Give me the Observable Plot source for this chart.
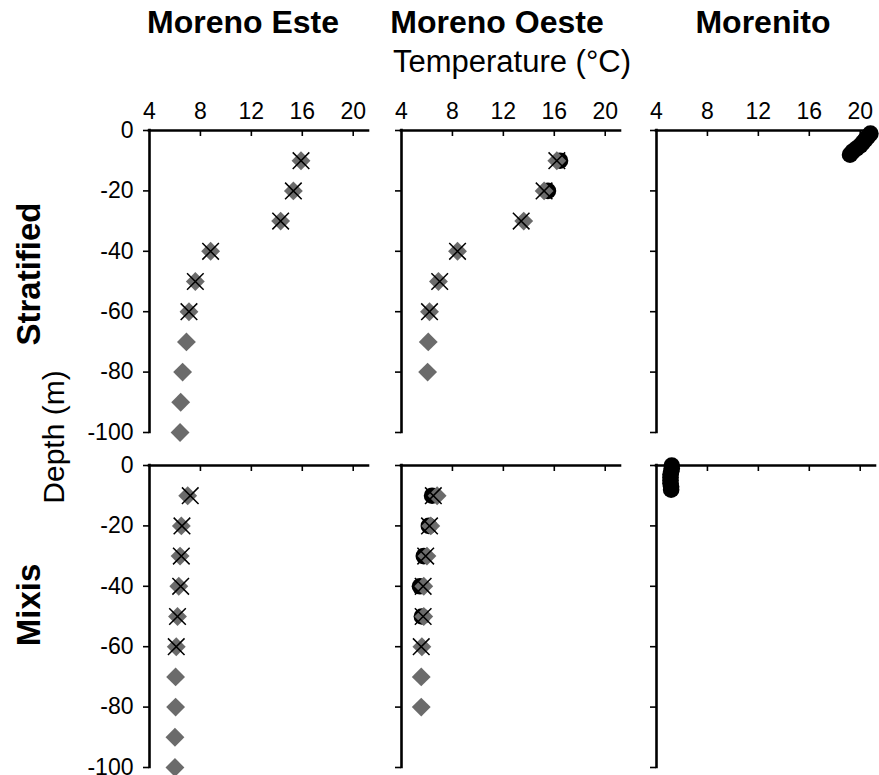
<!DOCTYPE html>
<html>
<head>
<meta charset="utf-8">
<script src="https://cdn.jsdelivr.net/npm/d3@7"></script>
<script src="https://cdn.jsdelivr.net/npm/@observablehq/plot@0.6"></script>
<style>
  html, body { margin: 0; padding: 0; background: #fff; }
  #root { position: relative; width: 879px; height: 775px; overflow: hidden; background: #fff;
          font-family: 'Liberation Sans', Arial, sans-serif; color: #000; }
  .lbl { position: absolute; white-space: nowrap; line-height: 1; }
  .title { font-weight: bold; font-size: 32px; transform: translateX(-50%); }
  .rot { transform: translate(-50%, -50%) rotate(-90deg); }
  .panel { position: absolute; }
</style>
</head>
<body>
<div id="root"></div>
<script>
// ---------- data ----------
const lakes = ["Moreno Este", "Moreno Oeste", "Morenito"];
const seasons = ["Stratified", "Mixis"];
const xTitle = "Temperature (°C)";
const yTitle = "Depth (m)";
const xTicks = [4, 8, 12, 16, 20];
const yTicks = [0, -20, -40, -60, -80, -100];
const xDomain = [4, 21.2];
const yDomain = [-100, 0];

// Moreno Este – Stratified
const esteStratDiamondDepth = [-10, -20, -30, -40, -50, -60, -70, -80, -90, -100];
const esteStratDiamondTemp  = [15.9, 15.3, 14.3, 8.8, 7.6, 7.1, 6.9, 6.6, 6.45, 6.4];
const esteStratCrossDepth   = [-10, -20, -30, -40, -50, -60];
const esteStratCrossTemp    = [15.9, 15.3, 14.3, 8.8, 7.6, 7.1];

// Moreno Oeste – Stratified
const oesteStratDiamondDepth = [-10, -20, -30, -40, -50, -60, -70, -80];
const oesteStratDiamondTemp  = [16.2, 15.2, 13.6, 8.4, 6.9, 6.2, 6.1, 6.05];
const oesteStratCrossDepth   = [-10, -20, -30, -40, -50, -60];
const oesteStratCrossTemp    = [16.2, 15.2, 13.4, 8.4, 7.0, 6.2];
const oesteStratCircleDepth  = [-10, -20];
const oesteStratCircleTemp   = [16.45, 15.5];

// Morenito – Stratified
const morenitoStratCircleDepth = [-1, -2, -3, -4, -5, -6, -7, -8];
const morenitoStratCircleTemp  = [20.8, 20.6, 20.4, 20.2, 20.0, 19.7, 19.4, 19.2];

// Moreno Este – Mixis
const esteMixDiamondDepth = [-10, -20, -30, -40, -50, -60, -70, -80, -90, -100];
const esteMixDiamondTemp  = [7.0, 6.5, 6.4, 6.3, 6.2, 6.1, 6.05, 6.05, 6.0, 6.0];
const esteMixCrossDepth   = [-10, -20, -30, -40, -50, -60];
const esteMixCrossTemp    = [7.2, 6.55, 6.5, 6.45, 6.2, 6.1];

// Moreno Oeste – Mixis
const oesteMixDiamondDepth = [-10, -20, -30, -40, -50, -60, -70, -80];
const oesteMixDiamondTemp  = [6.8, 6.3, 6.0, 5.75, 5.75, 5.6, 5.55, 5.55];
const oesteMixCrossDepth   = [-10, -20, -30, -40, -50, -60];
const oesteMixCrossTemp    = [6.5, 6.2, 5.9, 5.7, 5.7, 5.55];
const oesteMixCircleDepth  = [-10, -20, -30, -40, -50];
const oesteMixCircleTemp   = [6.4, 6.15, 5.75, 5.45, 5.6];

// Morenito – Mixis
const morenitoMixCircleDepth = [0, -1, -2, -3, -4, -5, -6, -7, -8];
const morenitoMixCircleTemp  = [5.2, 5.2, 5.15, 5.1, 5.1, 5.1, 5.1, 5.15, 5.15];

// ---------- helpers ----------
const zip = (depths, temps) => depths.map((d, i) => ({d, t: temps[i]}));

const panels = [
  {col: 0, row: 0, circles: [], diamonds: zip(esteStratDiamondDepth, esteStratDiamondTemp), crosses: zip(esteStratCrossDepth, esteStratCrossTemp)},
  {col: 1, row: 0, circles: zip(oesteStratCircleDepth, oesteStratCircleTemp), diamonds: zip(oesteStratDiamondDepth, oesteStratDiamondTemp), crosses: zip(oesteStratCrossDepth, oesteStratCrossTemp)},
  {col: 2, row: 0, circles: zip(morenitoStratCircleDepth, morenitoStratCircleTemp), diamonds: [], crosses: []},
  {col: 0, row: 1, circles: [], diamonds: zip(esteMixDiamondDepth, esteMixDiamondTemp), crosses: zip(esteMixCrossDepth, esteMixCrossTemp)},
  {col: 1, row: 1, circles: zip(oesteMixCircleDepth, oesteMixCircleTemp), diamonds: zip(oesteMixDiamondDepth, oesteMixDiamondTemp), crosses: zip(oesteMixCrossDepth, oesteMixCrossTemp)},
  {col: 2, row: 1, circles: zip(morenitoMixCircleDepth, morenitoMixCircleTemp), diamonds: [], crosses: []}
];

// layout (pixels)
const colLeft = [149, 401, 656];
const rowTop = [130, 465];
const innerW = 219, innerH = 302;
const root = document.getElementById("root");
const FONT = "'Liberation Sans', Arial, sans-serif";

for (const p of panels) {
  const showX = p.row === 0, showY = p.col === 0;
  const ml = showY ? 70 : 12, mt = showX ? 45 : 12, mr = 12, mb = 12;
  const marks = [
    Plot.ruleY([0], {stroke: "black", strokeWidth: 2.6, strokeLinecap: "square"}),
    Plot.ruleX([xDomain[0]], {stroke: "black", strokeWidth: 2.6, strokeLinecap: "square"}),
    Plot.gridX(xTicks.slice(1), {stroke: "black", strokeOpacity: 1, strokeWidth: 1.6, insetBottom: innerH - 6}),
    Plot.axisY(yTicks, {anchor: "left", tickSize: 6, tickPadding: 10, strokeWidth: 1.6, label: null,
      fontSize: 23, tickFormat: showY ? (d => String(d)) : (() => "")})
  ];
  if (showX) {
    marks.push(Plot.axisX(xTicks, {anchor: "top", tickSize: 0, tickPadding: 12, label: null,
      fontSize: 23, tickFormat: d => String(d)}));
  }
  marks.push(
    Plot.dot(p.circles, {x: "t", y: "d", r: 8.3, fill: "black", symbol: "circle"}),
    Plot.dot(p.diamonds, {x: "t", y: "d", r: 8.5, fill: "#6b6b6b", symbol: "diamond2"}),
    Plot.dot(p.crosses, {x: "t", y: "d", r: 7.6, stroke: "black", strokeWidth: 1.5, symbol: "times"})
  );
  const chart = Plot.plot({
    width: ml + innerW + mr,
    height: mt + innerH + mb,
    marginLeft: ml, marginRight: mr, marginTop: mt, marginBottom: mb,
    x: {domain: xDomain, axis: showX ? undefined : null},
    y: {domain: yDomain},
    style: {fontFamily: FONT, fontSize: "23px", color: "black", background: "transparent", overflow: "visible"},
    marks
  });
  const wrap = document.createElement("div");
  wrap.className = "panel";
  wrap.style.left = (colLeft[p.col] - ml) + "px";
  wrap.style.top = (rowTop[p.row] - mt) + "px";
  wrap.style.width = (ml + innerW + mr) + "px";
  wrap.appendChild(chart);
  root.appendChild(wrap);
}

// ---------- text labels ----------
function label(text, cls, css) {
  const el = document.createElement("div");
  el.className = "lbl " + cls;
  el.textContent = text;
  Object.assign(el.style, css);
  root.appendChild(el);
}
const titleCenters = [243, 497, 763];
lakes.forEach((name, i) => label(name, "title", {left: titleCenters[i] + "px", top: "6px"}));
label(xTitle, "", {left: "512px", top: "46px", fontSize: "31px", transform: "translateX(-50%)"});
label(seasons[0], "rot", {left: "28px", top: "274px", fontSize: "33px", fontWeight: "bold"});
label(seasons[1], "rot", {left: "28px", top: "605px", fontSize: "33px", fontWeight: "bold"});
label(yTitle, "rot", {left: "54px", top: "437px", fontSize: "30px"});
</script>
</body>
</html>
